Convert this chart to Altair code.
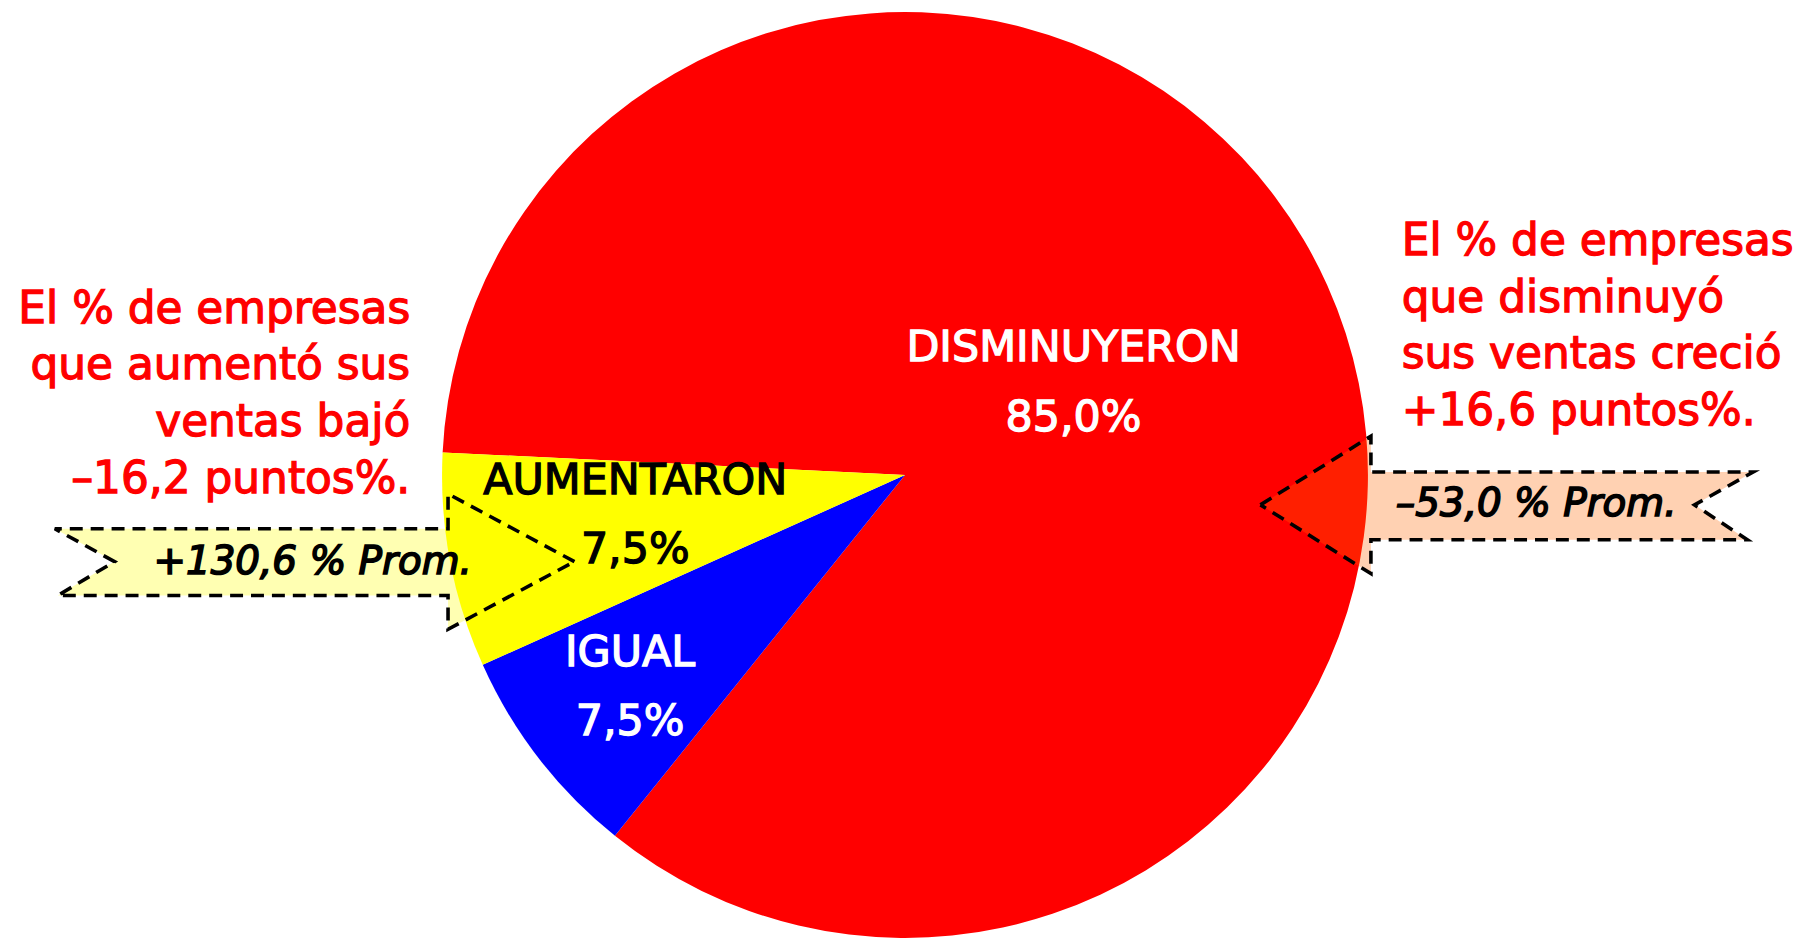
import math
import altair as alt
import pandas as pd

# ---------------- data ----------------
categories = ["DISMINUYERON", "IGUAL", "AUMENTARON"]
shares = [85.0, 7.5, 7.5]
share_labels = ["85,0%", "7,5%", "7,5%"]

left_note = ["El % de empresas", "que aumentó sus", "ventas bajó", "–16,2 puntos%."]
right_note = ["El % de empresas", "que disminuyó", "sus ventas creció", "+16,6 puntos%."]
left_badge = "+130,6 % Prom."
right_badge = "–53,0 % Prom."

# ---------------- styles / layout ----------------
W, H = 1802, 934
slice_colors = ["#FF0000", "#0000FF", "#FFFF00"]
label_colors = ["#FFFFFF", "#FFFFFF", "#000000"]
label_radius = {"DISMINUYERON": 193, "IGUAL": 349, "AUMENTARON": 274}
label_nudge = {"DISMINUYERON": -1.25, "IGUAL": 0.0, "AUMENTARON": 0.6}  # angular nudge, share units
start_angle = math.radians(272.8)
FONT = "DejaVu Sans"
EMB = 1.3  # outline width used to embolden glyphs

# callout outlines (annotation geometry, chart pixel units)
left_callout_x = [569, 442, 442, 47, 107, 50, 442, 442]
left_callout_y = [554, 486, 521, 521, 554, 588, 588, 622]
right_callout_x = [1258, 1369, 1369, 1753, 1694, 1747, 1369, 1369]
right_callout_y = [497, 428, 464, 464, 497, 532, 532, 566]

df = pd.DataFrame({
    "cat": categories,
    "share": shares,
    "pct": share_labels,
    "ord": list(range(len(categories))),
})
df["lr"] = df["cat"].map(label_radius)
df["nudge"] = df["cat"].map(label_nudge)

theta_scale = alt.Scale(domain=[0, 100], range=[start_angle, start_angle + 2 * math.pi])

pie = alt.Chart(df).mark_arc(outerRadius=465).encode(
    theta=alt.Theta("share:Q", stack=True, scale=theta_scale),
    order=alt.Order("ord:Q"),
    color=alt.Color("cat:N", scale=alt.Scale(domain=categories, range=slice_colors), legend=None),
)

# label angle = middle of each stacked slice
lab_color = alt.Color("cat:N", scale=alt.Scale(domain=categories, range=label_colors), legend=None)
lab_base = alt.Chart(df).transform_window(
    cum="sum(share)", sort=[alt.SortField("ord")]
).transform_calculate(
    mid="datum.cum - datum.share / 2 + datum.nudge"
).encode(
    theta=alt.Theta("mid:Q", stack=None, scale=theta_scale),
    radius=alt.Radius("lr:Q", scale=None),
    color=lab_color,
    stroke=alt.Stroke("cat:N", scale=alt.Scale(domain=categories, range=label_colors), legend=None),
)
names = lab_base.mark_text(font=FONT, fontSize=43, baseline="middle", dy=-35, strokeWidth=EMB).encode(
    text="cat:N"
)
pcts = lab_base.mark_text(font=FONT, fontSize=43, baseline="middle", dy=35, strokeWidth=EMB).encode(
    text="pct:N"
)


def callout(xs, ys, fill):
    d = pd.DataFrame({"x": xs + [xs[0]], "y": ys + [ys[0]], "i": list(range(len(xs) + 1))})
    return alt.Chart(d).mark_line(
        fill=fill, fillOpacity=0.3, stroke="#000000", strokeWidth=3.6,
        strokeDash=[13, 8], strokeCap="butt", strokeJoin="miter",
    ).encode(
        x=alt.X("x:Q", scale=None, axis=None),
        y=alt.Y("y:Q", scale=None, axis=None),
        order=alt.Order("i:Q"),
    )


left_shape = callout(left_callout_x, left_callout_y, "#FFFF00")
right_shape = callout(right_callout_x, right_callout_y, "#FF6600")

badges = alt.Chart(pd.DataFrame({
    "x": [306, 1535], "y": [554, 496], "t": [left_badge, right_badge]
})).mark_text(font=FONT, fontSize=39, fontStyle="italic", baseline="middle",
              align="center", color="#000000", stroke="#000000", strokeWidth=1.6).encode(
    x=alt.X("x:Q", scale=None, axis=None), y=alt.Y("y:Q", scale=None, axis=None), text="t:N"
)

left_text = alt.Chart(pd.DataFrame({"x": [404], "y": [279], "t": ["\n".join(left_note)]})).mark_text(
    font=FONT, fontSize=44, align="right", baseline="top", lineBreak="\n",
    lineHeight=57, color="#FF0000", stroke="#FF0000", strokeWidth=EMB
).encode(x=alt.X("x:Q", scale=None, axis=None), y=alt.Y("y:Q", scale=None, axis=None), text="t:N")

right_text = alt.Chart(pd.DataFrame({"x": [1400], "y": [211], "t": ["\n".join(right_note)]})).mark_text(
    font=FONT, fontSize=44, align="left", baseline="top", lineBreak="\n",
    lineHeight=57, color="#FF0000", stroke="#FF0000", strokeWidth=EMB
).encode(x=alt.X("x:Q", scale=None, axis=None), y=alt.Y("y:Q", scale=None, axis=None), text="t:N")

chart = alt.layer(
    pie, left_shape, right_shape, names, pcts, badges, left_text, right_text
).resolve_scale(color="independent", stroke="independent").properties(
    width=W, height=H, padding=0, autosize=alt.AutoSizeParams(type="none"), background="#FFFFFF"
).configure_view(stroke=None)

chart.save("out.html", embed_options={"renderer": "svg", "actions": False})
